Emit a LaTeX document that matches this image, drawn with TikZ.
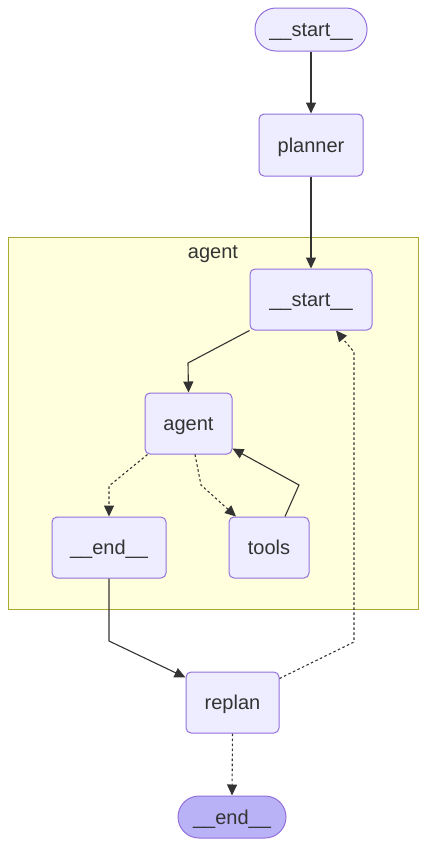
\documentclass[tikz,border=0pt]{standalone}
\usepackage{fontspec}
\setmainfont{Liberation Sans}
\usetikzlibrary{arrows.meta}
\definecolor{nodefill}{HTML}{EEEDFF}
\definecolor{nodeline}{HTML}{9370DB}
\definecolor{txt}{HTML}{333333}
\definecolor{clfill}{HTML}{FFFFDE}
\definecolor{clline}{HTML}{AAAA33}
\definecolor{endfill}{HTML}{BAB2F7}
\tikzset{
  lbl/.style={text=txt, font=\fontsize{20}{23}\selectfont, text height=14.3pt, text depth=0pt},
  box/.style={draw=nodeline, fill=nodefill, line width=1pt, rounded corners=5pt,
    lbl, inner sep=0pt},
  term/.style={box, rounded corners=21pt},
  cluster/.style={draw=clline, fill=clfill, line width=1pt, inner sep=0pt},
  edge/.style={draw=txt, line width=1.1pt, -{Triangle[length=11pt,width=10pt]}},
  cond/.style={edge, dash pattern=on 2.5pt off 2.5pt},
}
\begin{document}
\begin{tikzpicture}[x=1pt,y=-1pt]
\useasboundingbox (0,0) rectangle (424,846);
\fill[white] (0,0) rectangle (424,846);
% cluster
\node[cluster, minimum width=410pt, minimum height=372pt] (cl) at (213,423) {};
\node[lbl] (cllabel) at (213,251) {agent};
% nodes
\node[term, minimum width=112pt, minimum height=43pt] (s0) at (311,29.5) {\_\_start\_\_};
\node[box, minimum width=104pt, minimum height=62pt] (pl) at (311,145) {planner};
\node[box, minimum width=122pt, minimum height=61pt] (is) at (311,299.5) {\_\_start\_\_};
\node[box, minimum width=87pt, minimum height=61pt] (ag) at (188.5,423.5) {agent};
\node[box, minimum width=114pt, minimum height=61pt] (en) at (109,547.5) {\_\_end\_\_};
\node[box, minimum width=80pt, minimum height=61pt] (tl) at (269,547.5) {tools};
\node[box, minimum width=93pt, minimum height=61pt] (rp) at (232.5,702.5) {replan};
\node[term, fill=endfill, minimum width=108pt, minimum height=42pt] (e0) at (232,817) {\_\_end\_\_};
% waypoints
\coordinate (w1) at (188,363);
\coordinate (w2) at (109,486);
\coordinate (w3) at (201,485);
\coordinate (w4) at (299,485);
\coordinate (w5) at (109,641);
\coordinate (w6) at (354,642);
\coordinate (w7) at (354,352);
% edges
\draw[edge] (s0.south) -- (pl.north);
\draw[edge] (pl.south) -- (is.north);
\draw[edge] (is.south west) -- (w1) -- (ag.north);
\draw[cond] ([xshift=3pt]ag.south west) -- (w2) -- (en.north);
\draw[cond] ([xshift=6.5pt]ag.south) -- (w3) -- ([xshift=-33pt]tl.north);
\draw[edge] ([xshift=16pt]tl.north) -- (w4) -- ([yshift=6pt]ag.south east);
\draw[edge] (en.south) -- (w5) -- ([yshift=-6pt]rp.north west);
\draw[cond] ([yshift=-7pt]rp.north east) -- (w6) -- (w7) -- ([xshift=25pt]is.south);
\draw[cond] (rp.south) -- (e0.north);
\end{tikzpicture}
\end{document}
